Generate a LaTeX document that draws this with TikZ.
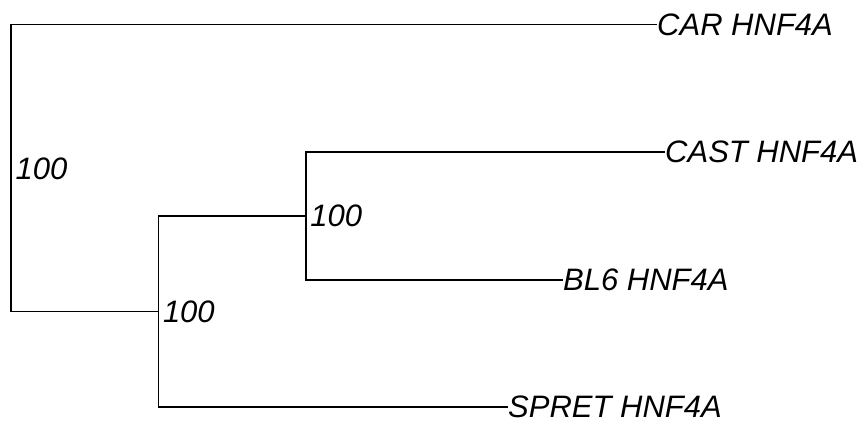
\documentclass[tikz,border=0pt]{standalone}
\usepackage{fontspec}
\setmainfont{Liberation Sans}
\begin{document}
\begin{tikzpicture}[x=1pt,y=-1pt,
  edge/.style={line width=1.6pt},
  leaf/.style={anchor=west, inner sep=0pt, font=\fontsize{31}{31}\selectfont\itshape},
  support/.style={anchor=west, inner sep=0pt, font=\fontsize{31}{31}\selectfont\itshape}]
\useasboundingbox (0,0) rectangle (867,423);
\coordinate (r) at (11,168.6);
\coordinate (n1) at (158.3,311.5);
\coordinate (n2) at (305.7,216);
\node[leaf] (car) at (657,24.5) {CAR HNF4A};
\node[leaf] (cast) at (665,152) {CAST HNF4A};
\node[leaf] (bl6) at (563,280) {BL6 HNF4A};
\node[leaf] (spret) at (508,407) {SPRET HNF4A};
\draw[edge] (car.west) -| (r) |- (n1);
\draw[edge] (cast.west) -| (n2) |- (bl6.west);
\draw[edge] (n2) -| (n1) |- (spret.west);
\node[support] (s0) at ([xshift=4.5pt]r) {100};
\node[support] (s1) at ([xshift=4.5pt]n1) {100};
\node[support] (s2) at ([xshift=4.5pt]n2) {100};
\end{tikzpicture}
\end{document}
